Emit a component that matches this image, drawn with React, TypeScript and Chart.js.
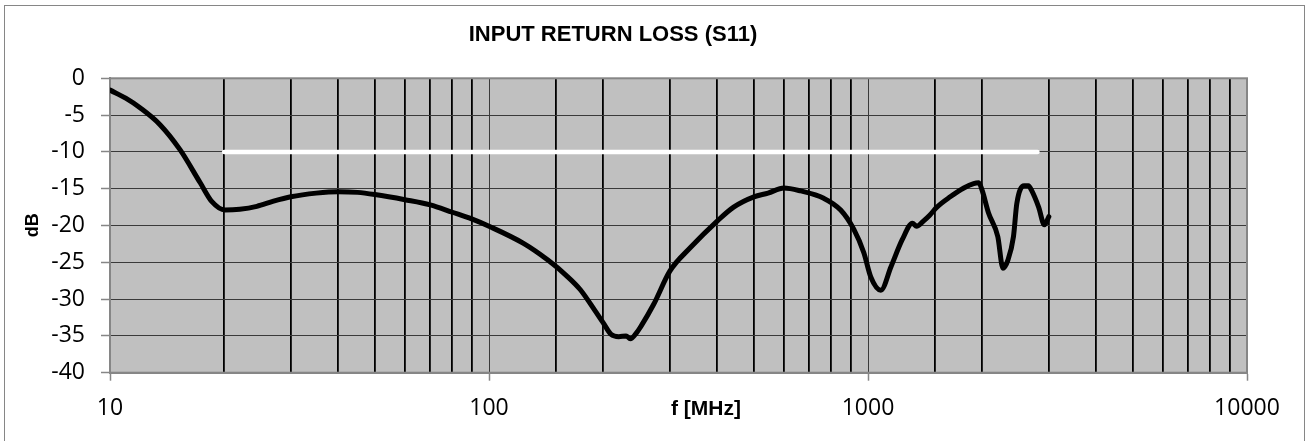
import React, { useEffect, useRef } from "react";
import { Chart, registerables } from "chart.js";

Chart.register(...registerables);

const title = "INPUT RETURN LOSS (S11)";
const xTitle = "f [MHz]";
const yTitle = "dB";

const freqMHz = [
  10, 11.0, 12.0, 13.55, 15.3, 17.3, 18.6, 20.1, 22, 24.4, 27, 30, 35, 40, 45, 50, 60,
  70, 80, 90, 100, 123, 143, 160, 174, 190, 200, 210, 220, 230, 236, 245, 251, 272, 300, 340, 400,
  442, 500, 545, 600, 664, 764, 847, 917, 975, 1017, 1081, 1150, 1232, 1310, 1343, 1400, 1455, 1520,
  1648, 1790, 1900, 1960, 2000, 2080, 2200, 2270, 2340, 2420, 2470, 2580, 2650, 2700, 2820, 2920, 3000,
];
const s11dB = [
  -1.6, -2.7, -4.0, -6.3, -9.7, -14.2, -16.8, -17.9, -17.8, -17.4, -16.7, -16.1,
  -15.6, -15.4, -15.5, -15.8, -16.5, -17.2, -18.2, -19.1, -20.1, -22.4, -24.7, -26.8, -28.7, -31.5,
  -33.2, -34.8, -35.1, -35.0, -35.4, -34.6, -33.8, -30.7, -26.2, -23.0, -19.4, -17.5, -16.1, -15.6,
  -14.9, -15.3, -16.3, -17.9, -20.5, -23.7, -27.0, -28.8, -25.6, -21.9, -19.7, -20.1, -19.4, -18.6,
  -17.5, -16.1, -14.9, -14.3, -14.2, -15.2, -18.3, -21.5, -25.8, -24.7, -21.5, -17.0, -14.6, -14.6,
  -15.2, -17.5, -19.9, -18.8,
];
const limitFreq = [20, 2800];
const limitDB = [-10, -10];

const xMin = 10;
const xMax = 10000;
const yMin = -40;
const yMax = 0;
const yStep = 5;

const isPow10 = (v: number) => Math.abs(Math.log10(v) - Math.round(Math.log10(v))) < 1e-9;

export default function App() {
  const ref = useRef<HTMLCanvasElement | null>(null);

  useEffect(() => {
    if (!ref.current) return;

    const decor = {
      id: "decor",
      beforeDraw(chart: any) {
        const { ctx, chartArea: a } = chart;
        ctx.save();
        ctx.fillStyle = "#c0c0c0";
        ctx.fillRect(a.left, a.top, a.right - a.left, a.bottom - a.top);
        ctx.restore();
      },
      beforeDatasetsDraw(chart: any) {
        const { ctx, chartArea: a } = chart;
        ctx.save();
        ctx.strokeStyle = "#868686";
        ctx.lineWidth = 2;
        ctx.strokeRect(a.left, a.top, a.right - a.left, a.bottom - a.top);
        ctx.restore();
      },
      afterDraw(chart: any) {
        const { ctx } = chart;
        ctx.save();
        ctx.fillStyle = "#000";
        ctx.textAlign = "center";
        ctx.textBaseline = "alphabetic";
        ctx.font = "bold 22px 'Liberation Sans', Arial, sans-serif";
        ctx.fillText(title, 613, 40.7);
        ctx.font = "bold 21px 'Liberation Sans', Arial, sans-serif";
        ctx.fillText(xTitle, 706, 415);
        ctx.translate(38.3, 225.3);
        ctx.rotate(-Math.PI / 2);
        ctx.font = "bold 18px 'Liberation Sans', Arial, sans-serif";
        ctx.fillText(yTitle, 0, 0);
        ctx.restore();
      },
    };

    const chart = new Chart(ref.current, {
      type: "line",
      data: {
        datasets: [
          {
            data: limitFreq.map((f, i) => ({ x: f, y: limitDB[i] })),
            borderColor: "#ffffff",
            borderWidth: 4.5,
            pointRadius: 0,
            borderCapStyle: "round",
          },
          {
            data: freqMHz.map((f, i) => ({ x: f, y: s11dB[i] })),
            borderColor: "#000000",
            borderWidth: 5,
            pointRadius: 0,
            cubicInterpolationMode: "monotone",
            borderJoinStyle: "round",
            borderCapStyle: "round",
          },
        ],
      },
      options: {
        responsive: false,
        animation: false,
        events: [],
        layout: { autoPadding: false, padding: { top: 78.3, right: 64, bottom: 0, left: 0 } },
        plugins: { legend: { display: false }, tooltip: { enabled: false }, title: { display: false } },
        scales: {
          x: {
            type: "logarithmic",
            min: xMin,
            max: xMax,
            afterFit: (s: any) => {
              s.height = 68.3;
            },
            border: { display: true, color: "#868686", width: 2 },
            grid: {
              color: (c: any) => (c.tick && isPow10(c.tick.value) ? "#3a3a3a" : "#000000"),
              lineWidth: (c: any) => (c.tick && isPow10(c.tick.value) ? 1 : 1.8),
              tickColor: (c: any) => (c.tick && isPow10(c.tick.value) ? "#868686" : "rgba(0,0,0,0)"),
              tickWidth: 1.5,
              tickLength: 8,
            },
            ticks: {
              autoSkip: false,
              maxRotation: 0,
              padding: 14,
              color: "#000",
              font: { family: "'Open Sans', sans-serif", size: 23 },
              callback: (v: any) => (isPow10(Number(v)) ? String(Number(v)) : ""),
            },
          },
          y: {
            min: yMin,
            max: yMax,
            afterFit: (s: any) => {
              s.width = 110;
            },
            border: { display: true, color: "#868686", width: 2 },
            grid: {
              color: "#3a3a3a",
              lineWidth: 1,
              tickColor: "#868686",
              tickWidth: 1.5,
              tickLength: 9,
            },
            ticks: {
              stepSize: yStep,
              padding: 16,
              color: "#000",
              font: { family: "'Open Sans', sans-serif", size: 23 },
            },
          },
        },
      },
      plugins: [decor],
    } as any);

    return () => chart.destroy();
  }, []);

  return (
    <div style={{ position: "absolute", left: 0, top: 0, width: 1311, height: 441, background: "#fff", overflow: "hidden" }}>
      <div
        style={{
          position: "absolute",
          left: 4,
          top: 5,
          width: 1301,
          height: 460,
          border: "1px solid #868686",
          boxSizing: "border-box",
        }}
      />
      <canvas ref={ref} width={1311} height={441} style={{ position: "absolute", left: 0, top: 0, width: 1311, height: 441 }} />
    </div>
  );
}
